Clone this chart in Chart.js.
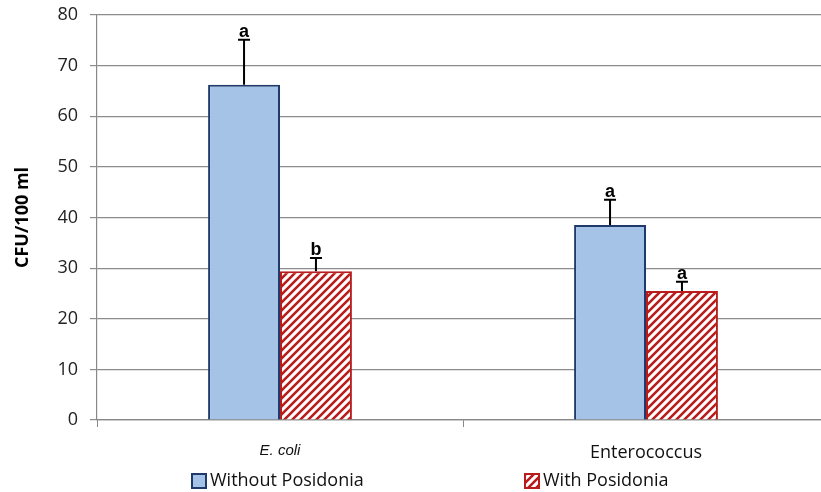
<!DOCTYPE html>
<html lang="en">
<head>
<meta charset="UTF-8">
<title>CFU chart</title>
<script src="https://cdn.jsdelivr.net/npm/chart.js"></script>
<style>
  html, body { margin: 0; padding: 0; background: #fff; overflow: hidden; }
  #wrap { width: 832px; height: 492px; }
</style>
</head>
<body>
<div id="wrap"><canvas id="chart"></canvas></div>
<script>
// data
const categories = ['E. coli', 'Enterococcus'];
const seriesNames = ['Without Posidonia', 'With Posidonia'];
const withoutPosidonia = [66.2, 38.5];
const withPosidonia = [29.4, 25.5];
const withoutErr = [8.9, 5.0];
const withErr = [2.6, 1.8];
const withoutLetters = ['a', 'a'];
const withLetters = ['b', 'a'];
const yTicks = [0, 10, 20, 30, 40, 50, 60, 70, 80];

const BLUE = '#a5c3e6';
const NAVY = '#1f3a6b';
const RED = '#b81c1c';
const FONT = "'Open Sans', Lato, sans-serif";

function makeHatch() {
    const c = document.createElement('canvas');
    c.width = 8; c.height = 8;
    const g = c.getContext('2d');
    g.fillStyle = '#fff';
    g.fillRect(0, 0, 8, 8);
    g.strokeStyle = RED;
    g.lineWidth = 2.6;
    g.beginPath();
    g.moveTo(-2, 10); g.lineTo(10, -2);
    g.moveTo(-2, 2); g.lineTo(2, -2);
    g.moveTo(6, 10); g.lineTo(10, 6);
    g.stroke();
    return document.getElementById('chart').getContext('2d').createPattern(c, 'repeat');
}
const hatch = makeHatch();

const errorBars = {
    id: 'errorBars',
    afterDatasetsDraw(chart) {
        const ctx = chart.ctx;
        const y = chart.scales.y;
        const sets = [[withoutErr, withoutLetters], [withErr, withLetters]];
        ctx.save();
        sets.forEach((s, di) => {
            const meta = chart.getDatasetMeta(di);
            meta.data.forEach((bar, i) => {
                const v = chart.data.datasets[di].data[i];
                const top = y.getPixelForValue(v + s[0][i]);
                ctx.strokeStyle = '#000';
                ctx.lineWidth = 2;
                ctx.beginPath();
                ctx.moveTo(bar.x, bar.y);
                ctx.lineTo(bar.x, top);
                ctx.moveTo(bar.x - 6, top);
                ctx.lineTo(bar.x + 6, top);
                ctx.stroke();
                ctx.fillStyle = '#000';
                ctx.font = "bold 18px 'Liberation Sans', Arial, sans-serif";
                ctx.textAlign = 'center';
                ctx.textBaseline = 'alphabetic';
                ctx.fillText(s[1][i], bar.x, top - 3);
            });
        });
        ctx.restore();
    }
};

const bottomLegend = {
    id: 'bottomLegend',
    afterDraw(chart) {
        const ctx = chart.ctx;
        const xs = [192, 525];
        const cy = 481;
        ctx.save();
        chart.data.datasets.forEach((ds, i) => {
            ctx.fillStyle = ds.backgroundColor;
            ctx.fillRect(xs[i], cy - 7, 14, 14);
            ctx.strokeStyle = ds.borderColor;
            ctx.lineWidth = 2;
            ctx.strokeRect(xs[i], cy - 7, 14, 14);
            ctx.fillStyle = '#111';
            ctx.font = '18px ' + FONT;
            ctx.textAlign = 'left';
            ctx.textBaseline = 'middle';
            ctx.fillText(ds.label, xs[i] + 18, cy);
        });
        ctx.restore();
    }
};

new Chart(document.getElementById('chart'), {
    type: 'bar',
    data: {
        labels: categories,
        datasets: [
            { label: seriesNames[0], data: withoutPosidonia, backgroundColor: BLUE, borderColor: NAVY, borderWidth: 2 },
            { label: seriesNames[1], data: withPosidonia, backgroundColor: hatch, borderColor: RED, borderWidth: 2 }
        ]
    },
    options: {
        responsive: true,
        maintainAspectRatio: false,
        animation: false,
        devicePixelRatio: 1,
        layout: { padding: { top: 15, right: 3, left: 12, bottom: 0 } },
        datasets: { bar: { barPercentage: 1, categoryPercentage: 0.393, borderSkipped: 'bottom' } },
        plugins: { legend: { display: false }, tooltip: { enabled: false } },
        scales: {
            x: {
                offset: true,
                afterFit(s) { s.height = 72; s.paddingLeft = 0; s.paddingRight = 0; },
                grid: { display: true, drawOnChartArea: false, offset: true, color: '#888', tickLength: 7 },
                border: { color: '#888', width: 1.2 },
                ticks: {
                    padding: 15,
                    color: '#111',
                    font: ctx => ctx.index === 0
                        ? { family: "'Liberation Sans', Arial, sans-serif", size: 15, style: 'italic' }
                        : { family: FONT, size: 18 }
                }
            },
            y: {
                min: 0, max: 80,
                afterFit(s) { s.width = 85; s.paddingTop = 0; s.paddingBottom = 0; },
                afterBuildTicks(s) { s.ticks = yTicks.map(v => ({ value: v })); },
                grid: { color: '#8c8c8c', lineWidth: 1.2, tickLength: 7 },
                border: { color: '#888', width: 1.2 },
                ticks: { color: '#222', padding: 12, font: { family: FONT, size: 18 } },
                title: {
                    display: true,
                    text: 'CFU/100 ml',
                    color: '#000',
                    padding: 0,
                    font: { family: FONT, size: 18, weight: 'bold' }
                }
            }
        }
    },
    plugins: [errorBars, bottomLegend]
});
</script>
</body>
</html>
